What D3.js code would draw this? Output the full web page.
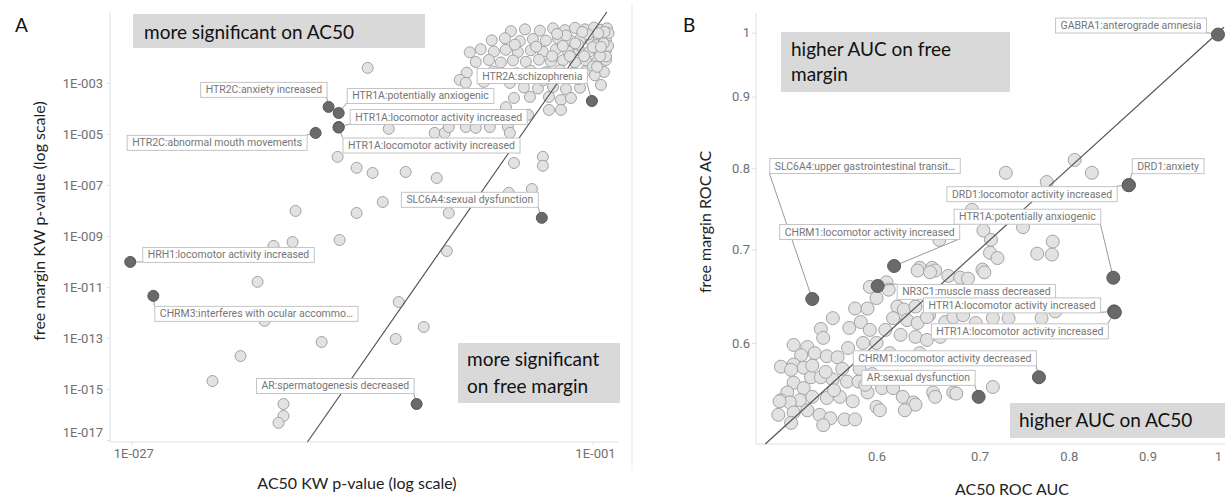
<!DOCTYPE html>
<html><head><meta charset="utf-8">
<script src="https://cdn.jsdelivr.net/npm/d3@7"></script>
<style>body{margin:0;background:#fff}svg{display:block}</style>
</head><body>
<svg id="c" width="1225" height="500"></svg>
<script>
// ---------------- DATA ----------------
// Panel A: log10 KW p-values [AC50, free margin]
const lightA = [
 [-5.62,-0.97],[-4.83,-0.90],[-3.99,-0.95],[-3.25,-0.86],[-2.58,-0.93],[-2.01,-0.84],[-1.45,-0.90],[-0.94,-0.83],[-0.55,-0.92],[-0.21,-0.86],
 [-6.70,-1.33],[-5.96,-1.25],[-5.12,-1.36],[-4.38,-1.28],[-3.65,-1.34],[-2.97,-1.26],[-2.30,-1.32],[-1.68,-1.24],[-1.11,-1.35],[-0.66,-1.28],[-0.27,-1.31],
 [-7.94,-1.80],[-7.32,-1.68],[-6.58,-1.77],[-5.91,-1.70],[-5.23,-1.79],[-4.50,-1.72],[-3.82,-1.78],[-3.09,-1.69],[-2.41,-1.76],[-1.79,-1.71],[-1.22,-1.78],[-0.72,-1.70],[-0.27,-1.74],
 [-7.60,-2.18],[-6.86,-2.10],[-6.19,-2.20],[-5.51,-2.12],[-4.78,-2.17],[-4.04,-2.09],[-3.37,-2.16],[-2.69,-2.11],[-2.01,-2.19],[-1.39,-2.13],[-0.77,-2.16],[-0.27,-2.10],
 [-8.11,-2.60],[-6.64,-2.55],[-5.29,-2.62],[-4.50,-2.52],[-3.65,-2.58],[-2.86,-2.50],[-2.13,-2.61],[-1.45,-2.55],[-0.38,-2.57],
 [-4.89,-3.18],[-4.10,-3.22],[-3.25,-3.16],[-2.52,-3.24],[-1.73,-3.19],
 [-0.49,-1.12],[-0.83,-1.52],[-1.28,-1.10],[-1.84,-1.50],[-2.52,-1.14],[-0.27,-1.96],[-3.02,-1.08],[-4.20,-1.58],[-1.00,-2.35],[-2.30,-1.95],[-0.12,-1.05],[-0.15,-1.55],[-3.30,-1.95],[-5.40,-1.50],
 [-0.35,-1.00],[-0.70,-1.05],[-1.60,-1.00],[-0.40,-1.45],[-1.00,-1.60],[-1.50,-1.95],[-0.60,-1.95],[-2.00,-1.45],[-2.70,-1.55],[-0.90,-2.70],[-1.80,-2.85],[-3.80,-2.90],
 [-8.50,-2.88],[-8.16,-3.00],[-7.15,-2.96],[-6.13,-2.80],[-5.68,-3.00],
 [-9.91,-4.96],[-9.35,-4.96],[-9.12,-4.73],[-8.16,-4.73],[-7.60,-4.76],[-6.81,-4.73],[-5.79,-4.73],[-5.68,-4.96],
 [-5.45,-3.59],[-4.55,-3.55],[-3.48,-3.55],[-2.80,-3.67],[-2.24,-3.59],[-3.48,-4.06],[-2.80,-4.06],[-4.66,-4.25],[-5.90,-3.95],
 [-0.55,-3.08],[-0.77,-2.37],[-0.55,-1.59],
 [-13.69,-2.41],[-12.50,-4.80],[-15.38,-5.90],[-14.31,-6.33],[-13.41,-6.53],[-11.55,-6.49],[-9.80,-6.73],[-5.45,-6.14],
 [-3.82,-5.90],[-3.82,-6.25],[-4.44,-7.16],[-5.74,-7.31],[-12.84,-7.67],[-17.75,-8.02],[-14.31,-8.10],[-9.12,-8.10],
 [-15.27,-9.16],[-17.92,-9.24],[-18.99,-9.39],[-9.23,-9.59],[-19.89,-10.80],[-11.94,-11.59],[-19.50,-12.33],[-10.53,-12.57],
 [-12.11,-13.04],[-16.28,-13.16],[-20.85,-13.71],[-22.43,-14.69],[-18.43,-15.59],[-18.43,-16.06],[-18.71,-16.33]
];
const hiLabelsA = ["HTR2C:anxiety increased","HTR1A:potentially anxiogenic","HTR1A:locomotor activity increased",
 "HTR2C:abnormal mouth movements","HTR1A:locomotor activity increased","HTR2A:schizophrenia",
 "SLC6A4:sexual dysfunction","HRH1:locomotor activity increased","CHRM3:interferes with ocular accommo\u2026",
 "AR:spermatogenesis decreased"];
const hiAc50A = [-15.89,-15.32,-15.32,-16.62,-15.33,-1.06,-3.88,-27.06,-25.76,-10.93];
const hiFreeA = [-3.94,-4.18,-4.73,-4.96,-4.75,-3.71,-8.29,-10.02,-11.35,-15.59];
const ticksAy = [-3,-5,-7,-9,-11,-13,-15,-17];
const ticksAx = [-27,-1];

// Panel B: ROC AUC [AC50, free margin]
const lightB = [
 [0.807,0.811],[0.728,0.794],[0.828,0.794],[0.774,0.782],[0.692,0.747],[0.747,0.726],[0.704,0.722],[0.659,0.711],[0.712,0.711],
 [0.781,0.709],[0.711,0.696],[0.719,0.690],[0.763,0.695],[0.780,0.694],[0.640,0.679],[0.652,0.679],[0.655,0.676],[0.703,0.677],
 [0.638,0.676],[0.650,0.674],[0.668,0.670],[0.680,0.668],[0.688,0.667],[0.705,0.674],[0.609,0.663],[0.594,0.658],[0.611,0.655],[0.600,0.646],
 [0.619,0.637],[0.625,0.634],[0.636,0.637],[0.581,0.635],[0.592,0.635],[0.649,0.628],[0.665,0.621],[0.680,0.631],[0.696,0.620],
 [0.731,0.625],[0.768,0.625],[0.784,0.632],[0.673,0.626],[0.683,0.628],[0.714,0.625],[0.615,0.625],[0.628,0.623],[0.638,0.620],
 [0.647,0.626],[0.562,0.625],[0.552,0.614],[0.576,0.615],[0.586,0.621],[0.594,0.613],[0.608,0.613],[0.622,0.608],[0.636,0.606],
 [0.647,0.603],[0.660,0.606],[0.554,0.605],[0.530,0.598],[0.541,0.596],[0.536,0.588],[0.520,0.577],[0.530,0.579],[0.538,0.576],
 [0.547,0.590],[0.557,0.587],[0.566,0.586],[0.528,0.574],
 [0.544,0.567],[0.552,0.567],[0.562,0.565],[0.574,0.563],[0.584,0.563],[0.605,0.557],[0.615,0.557],[0.530,0.562],[0.538,0.557],
 [0.525,0.553],[0.535,0.546],[0.545,0.549],[0.557,0.548],[0.568,0.549],[0.579,0.545],[0.592,0.553],[0.520,0.546],[0.527,0.544],
 [0.518,0.533],[0.530,0.535],[0.541,0.537],[0.551,0.533],[0.560,0.530],[0.572,0.529],[0.581,0.529],[0.519,0.545],[0.528,0.526],
 [0.554,0.524],[0.600,0.540],[0.624,0.549],[0.634,0.544],[0.653,0.553],[0.673,0.553],[0.714,0.558],[0.676,0.552],[0.655,0.549],
 [0.636,0.542],[0.626,0.537],[0.603,0.537],
 [0.545,0.578],[0.556,0.572],[0.570,0.575],[0.585,0.575],[0.596,0.570],[0.563,0.555],[0.590,0.560],[0.600,0.585],[0.612,0.590],
 [0.625,0.585],[0.640,0.590],[0.575,0.595],[0.588,0.600],[0.600,0.600]
];
const hiLabelsB = ["GABRA1:anterograde amnesia","SLC6A4:upper gastrointestinal transit\u2026","DRD1:anxiety",
 "DRD1:locomotor activity increased","HTR1A:potentially anxiogenic","CHRM1:locomotor activity increased",
 "NR3C1:muscle mass decreased","HTR1A:locomotor activity increased","HTR1A:locomotor activity increased",
 "CHRM1:locomotor activity decreased","AR:sexual dysfunction"];
const hiAc50B = [1.0,0.545,0.875,0.875,0.855,0.616,0.601,0.856,0.857,0.765,0.699];
const hiFreeB = [0.997,0.645,0.778,0.778,0.668,0.681,0.659,0.632,0.631,0.567,0.549];
const ticksB = [0.6,0.7,0.8,0.9,1];

// ---------------- LAYOUT ----------------
const layA = [
 {anchor:'end',dx:-2,dy:-25,attach:'br'},{anchor:'start',dx:8,dy:-25,attach:'bl'},{anchor:'start',dx:11,dy:-18,attach:'bl'},
 {anchor:'end',dx:-9,dy:2,attach:'tr'},{anchor:'start',dx:4,dy:10,attach:'tl'},{anchor:'end',dx:-5,dy:-33,attach:'br'},
 {anchor:'end',dx:-4,dy:-26,attach:'br'},{anchor:'start',dx:12,dy:-15,attach:'bl'},{anchor:'start',dx:1,dy:10,attach:'tl'},
 {anchor:'end',dx:-3,dy:-26,attach:'br'}];
const layB = [
 {anchor:'end',dx:-12,dy:-17,attach:'br'},{anchor:'start',dx:-43,dy:-141,attach:'bl'},{anchor:'start',dx:3,dy:-27,attach:'bl'},
 {anchor:'end',dx:-12,dy:1,attach:'tr'},{anchor:'end',dx:-13,dy:-69,attach:'br'},{anchor:'start',dx:-115,dy:-42,attach:'br'},
 {anchor:'start',dx:19,dy:-2,attach:'tl'},{anchor:'end',dx:-14,dy:-14,attach:'br'},{anchor:'end',dx:-7,dy:11,attach:'tr'},
 {anchor:'end',dx:-3,dy:-27,attach:'br'},{anchor:'end',dx:-4,dy:-27,attach:'br'}];

const svg = d3.select('#c');
const AXC = '#dcdfe9', TICKC = '#707070';

// scales
const xA = d3.scaleLog().domain([10**-28.2, 10**0.41]).range([110,618]);
const yA = d3.scaleLog().domain([10**-17.08, 10**-0.22]).range([442,12]);
const xB = d3.scaleLog().domain([0.501, 1.009]).range([756,1224]);
const yB = d3.scaleLog().domain([0.508, 1.033]).range([444,13]);

// divider
svg.append('line').attr('x1',632).attr('x2',632).attr('y1',3).attr('y2',470).attr('stroke','#ebebf1');

// axis lines
svg.append('line').attr('x1',110).attr('x2',110).attr('y1',12).attr('y2',442).attr('stroke',AXC);
svg.append('line').attr('x1',110).attr('x2',618).attr('y1',442).attr('y2',442).attr('stroke',AXC);
svg.append('line').attr('x1',756).attr('x2',756).attr('y1',13).attr('y2',444).attr('stroke',AXC);
svg.append('line').attr('x1',756).attr('x2',1225).attr('y1',444).attr('y2',444).attr('stroke',AXC);

const fmtA = v => '1E-' + String(Math.round(-Math.log10(v))).padStart(3,'0');
function styleAxis(g){
  g.select('.domain').remove();
  g.attr('font-family','Roboto').attr('font-size',13);
  g.selectAll('.tick line').attr('stroke',AXC);
  g.selectAll('.tick text').attr('fill',TICKC);
}
const gAy = svg.append('g').attr('transform','translate(110,0)')
  .call(d3.axisLeft(yA).tickValues(ticksAy.map(e=>10**e)).tickFormat(fmtA).tickSize(3).tickPadding(4));
styleAxis(gAy);
gAy.selectAll('.tick').filter(d => d < 1e-16).select('text').attr('y',-8);
const gAx = svg.append('g').attr('transform','translate(0,442)')
  .call(d3.axisBottom(xA).tickValues(ticksAx.map(e=>10**e)).tickFormat(fmtA).tickSize(3).tickPadding(4));
styleAxis(gAx);
gAx.selectAll('.tick text').attr('dx',2);
const gBy = svg.append('g').attr('transform','translate(756,0)')
  .call(d3.axisLeft(yB).tickValues(ticksB).tickFormat(d3.format('~g')).tickSize(4).tickPadding(2));
styleAxis(gBy);
const gBx = svg.append('g').attr('transform','translate(0,444)')
  .call(d3.axisBottom(xB).tickValues(ticksB).tickFormat(d3.format('~g')).tickSize(0).tickPadding(8));
styleAxis(gBx);

// titles
const TF = 'Lato';
svg.append('text').attr('x',15).attr('y',32).attr('font-family',TF).attr('font-size',19).attr('fill','#111').text('A');
svg.append('text').attr('x',683).attr('y',32).attr('font-family',TF).attr('font-size',19).attr('fill','#111').text('B');
svg.append('text').attr('x',357).attr('y',489).attr('text-anchor','middle').attr('font-family',TF).attr('font-size',16)
  .attr('fill','#222').text('AC50 KW p-value (log scale)');
svg.append('text').attr('transform','translate(45,221) rotate(-90)').attr('text-anchor','middle').attr('font-family',TF)
  .attr('font-size',16).attr('fill','#222').text('free margin KW p-value (log scale)');
svg.append('text').attr('x',1012).attr('y',495).attr('text-anchor','middle').attr('font-family',TF).attr('font-size',16)
  .attr('fill','#222').text('AC50 ROC AUC');
svg.append('text').attr('transform','translate(711,222) rotate(-90)').attr('text-anchor','middle').attr('font-family',TF)
  .attr('font-size',16).attr('fill','#222').text('free margin ROC AC');

// region boxes
function region(x,y,w,h,lines,tx,ty,lh){
  svg.append('rect').attr('x',x).attr('y',y).attr('width',w).attr('height',h).attr('fill','#d9d9d9');
  lines.forEach((l,i)=>svg.append('text').attr('x',tx).attr('y',ty+i*lh).attr('font-family',TF).attr('font-size',19)
    .attr('fill','#111').text(l));
}
region(133,14,292,34,['more significant on AC50'],144,39,0);
region(458,343,162,60,['more significant','on free margin'],467,366,27);
region(781,32,229,60,['higher AUC on free','margin'],791,56,25);
region(1010,403,215,35,['higher AUC on AC50'],1019,427,0);

// light points
const gLA = svg.append('g');
gLA.selectAll('circle').data(lightA).join('circle')
  .attr('cx',d=>xA(10**d[0])).attr('cy',d=>yA(10**d[1])).attr('r',5.5)
  .attr('fill','#e2e2e2').attr('stroke','#a3a3a3').attr('stroke-width',1);
const gLB = svg.append('g');
gLB.selectAll('circle').data(lightB).join('circle')
  .attr('cx',d=>xB(d[0])).attr('cy',d=>yB(d[1])).attr('r',6.5)
  .attr('fill','#e2e2e2').attr('stroke','#a3a3a3').attr('stroke-width',1);

// diagonal y = x
const dA = yA.domain();
svg.append('line').attr('x1',xA(dA[0])).attr('y1',yA(dA[0])).attr('x2',xA(dA[1])).attr('y2',yA(dA[1]))
  .attr('stroke','#555').attr('stroke-width',1.2);
const lo = 0.508, hi = 1.009;
svg.append('line').attr('x1',xB(lo)).attr('y1',yB(lo)).attr('x2',xB(hi)).attr('y2',yB(hi))
  .attr('stroke','#555').attr('stroke-width',1.2);

// label geometry
const meas = svg.append('text').attr('font-family','Roboto').attr('font-size',11).text('HTR1A:locomotor activity increased');
const cond = 167 / meas.node().getComputedTextLength();
meas.remove();
function boxes(labels, xs, ys, lay){
  return labels.map((t,i)=>{
    const m = svg.append('text').attr('font-family','Roboto').attr('font-size',11).text(t);
    const tw = m.node().getComputedTextLength()*cond; m.remove();
    const bw = tw+10, bh = 15, L = lay[i];
    const left = L.anchor==='end' ? xs[i]+L.dx-bw : xs[i]+L.dx;
    const top = ys[i]+L.dy;
    const c = {tl:[left,top],tr:[left+bw,top],bl:[left,top+bh],br:[left+bw,top+bh]}[L.attach];
    return {t,tw,bw,bh,left,top,px:xs[i],py:ys[i],c};
  });
}
const pxA = hiAc50A.map(e=>xA(10**e)), pyA = hiFreeA.map(e=>yA(10**e));
const pxB = hiAc50B.map(v=>xB(v)), pyB = hiFreeB.map(v=>yB(v));
const bA = boxes(hiLabelsA,pxA,pyA,layA), bB = boxes(hiLabelsB,pxB,pyB,layB);
const all = bA.concat(bB);

// leaders
svg.append('g').selectAll('line').data(all).join('line')
  .attr('x1',d=>d.c[0]).attr('y1',d=>d.c[1]).attr('x2',d=>d.px).attr('y2',d=>d.py)
  .attr('stroke','#9a9a9a').attr('stroke-width',1);

// highlighted points
svg.append('g').selectAll('circle').data(hiAc50A.map((v,i)=>i)).join('circle')
  .attr('cx',i=>pxA[i]).attr('cy',i=>pyA[i]).attr('r',5.5).attr('fill','#6a6a6a').attr('stroke','#585858');
svg.append('g').selectAll('circle').data(hiAc50B.map((v,i)=>i)).join('circle')
  .attr('cx',i=>pxB[i]).attr('cy',i=>pyB[i]).attr('r',6.5).attr('fill','#6a6a6a').attr('stroke','#585858');

// label boxes
const gl = svg.append('g').selectAll('g').data(all).join('g');
gl.append('rect').attr('x',d=>d.left+0.5).attr('y',d=>d.top+0.5).attr('width',d=>d.bw).attr('height',d=>d.bh)
  .attr('fill','#fff').attr('stroke','#c4c4c4');
gl.append('text').attr('x',d=>d.left+5.5).attr('y',d=>d.top+11.5).attr('font-family','Roboto').attr('font-size',11)
  .attr('fill','#767676').attr('textLength',d=>d.tw).attr('lengthAdjust','spacingAndGlyphs').text(d=>d.t);
</script>
</body></html>
